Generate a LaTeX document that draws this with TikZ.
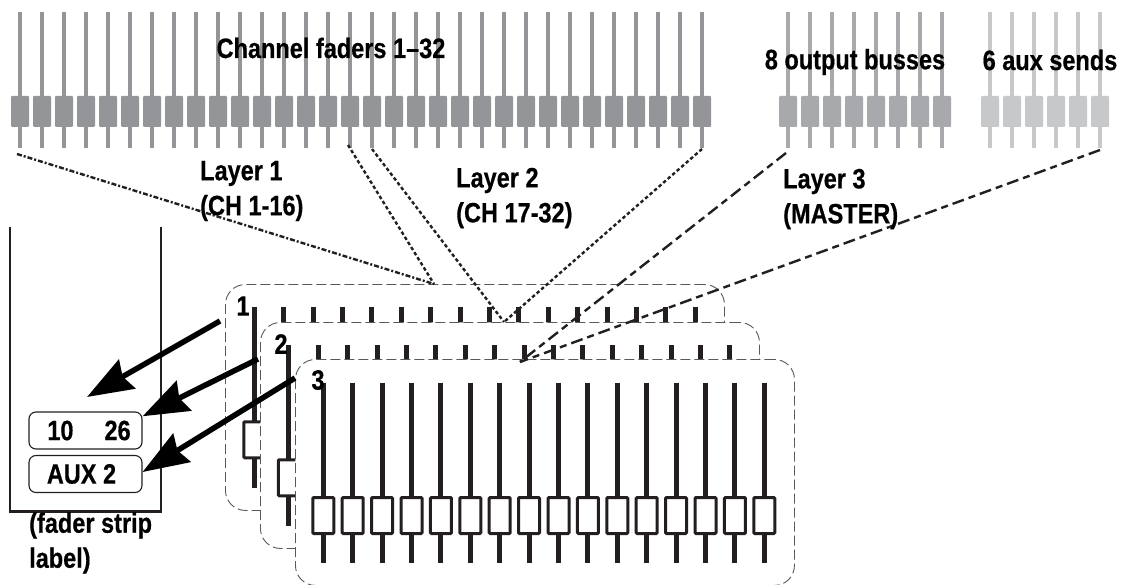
\documentclass[tikz,border=0pt]{standalone}
\usepackage{fontspec}
\setmainfont{Liberation Sans}[FakeStretch=0.84, BoldFeatures={FakeBold=0.5}]
\usetikzlibrary{arrows.meta,positioning,calc}
\definecolor{chgray}{HTML}{939598}
\definecolor{busgray}{HTML}{A7A9AC}
\definecolor{auxgray}{HTML}{C7C8CA}
\definecolor{inkblack}{HTML}{231F20}
\definecolor{framegray}{HTML}{58595B}

\begin{document}
\begin{tikzpicture}[
        x=1pt, y=-1pt,
        slidercap/.style={rectangle, rounded corners=1pt, inner sep=0pt, minimum width=18pt, minimum height=31pt},
        layerframe/.style={rectangle, draw=framegray, fill=white, line width=0.9pt, dash pattern=on 10pt off 4pt, rounded corners=20pt, minimum width=499pt, minimum height=226pt, anchor=north west},
        knob/.style={rectangle, draw=inkblack, fill=white, line width=3pt, rounded corners=1pt, inner sep=0pt, minimum width=21pt, minimum height=36pt},
        slot/.style={rectangle, draw=inkblack, line width=1.1pt, rounded corners=7pt, inner sep=0pt, minimum width=113pt, minimum height=37pt, font=\fontsize{28}{35}\bfseries\selectfont},
        caption/.style={align=left, inner sep=0pt, font=\fontsize{28}{35}\bfseries\selectfont},
        layerA/.style={draw=inkblack, line width=2.4pt, dash pattern=on 5pt off 2pt on 2pt off 2pt},
        layerB/.style={draw=inkblack, line width=2.4pt, dash pattern=on 3.5pt off 2.5pt},
        layerC/.style={draw=inkblack, line width=2.4pt, dash pattern=on 12pt off 5pt on 7pt off 5pt},
        arrow/.style={-{Stealth[length=46pt,width=33pt,inset=5pt]}, line width=5.5pt, black}
    ]
        \useasboundingbox (0,0) rectangle (1123,585);

        % Channel faders, busses and sends
        \foreach \i in {1,...,32} {
            \draw[chgray, line width=4pt] ({20+(\i-1)*22},12) -- ({20+(\i-1)*22},148);
            \node[slidercap, fill=chgray] (ch\i) at ({20+(\i-1)*22},111.5) {};
        }
        \foreach \i in {1,...,8} {
            \draw[busgray, line width=4pt] ({788+(\i-1)*22},12) -- ({788+(\i-1)*22},148);
            \node[slidercap, fill=busgray] (bus\i) at ({788+(\i-1)*22},111.5) {};
        }
        \foreach \i in {1,...,6} {
            \draw[auxgray, line width=4pt] ({990+(\i-1)*22},12) -- ({990+(\i-1)*22},148);
            \node[slidercap, fill=auxgray] (aux\i) at ({990+(\i-1)*22},111.5) {};
        }

        % Strip outline
        \coordinate (stripa) at (10,227);
        \coordinate (stripb) at (10,511.5);
        \coordinate (stripc) at (161,511.5);
        \coordinate (stripd) at (161,227);
        \draw[inkblack, line width=2.5pt] (stripa) -- (stripb) -- (stripc) -- (stripd);
        \node[slot] (slottop) at (85.5,430.5) {\hspace*{7pt}10\hspace{31pt}26};
        \node[slot] (slotbot) at (85.5,474) {\hspace*{-8pt}AUX 2};

        % Layers, back to front
        \foreach \l/\fx/\fy/\tx/\ty in {1/225/284/254.3/307, 2/260/322/288.8/345, 3/295/359/323.3/382.7} {
            \node[layerframe] (layer\l) at (\fx,\fy) {};
            \foreach \i in {1,...,16} {
                \draw[inkblack, line width=5pt] ({\tx+(\i-1)*29.4},\ty) -- ({\tx+(\i-1)*29.4},{\ty+180.5});
                \node[knob] (knob\l-\i) at ({\tx+(\i-1)*29.4},{\ty+132.8}) {};
            }
        }
        \node[caption] (num1) at (243,306) {1};
        \node[caption] (num2) at (281,344) {2};
        \node[caption] (num3) at (318,380) {3};

        % Layer connectors
        \coordinate (tipA) at (434,284);
        \coordinate (tipB) at (504,322);
        \coordinate (tipC) at (520,362);
        \coordinate (startA) at (17,154);
        \coordinate (startB) at (348,145);
        \coordinate (startC) at (372,149);
        \coordinate (startD) at (702,149);
        \coordinate (startE) at (786,153);
        \coordinate (startF) at (1100,150);
        \draw[layerA] (startA) -- (tipA);
        \draw[layerB] (startB) -- (tipA);
        \draw[layerB] (startC) -- (tipB);
        \draw[layerB] (startD) -- (tipB);
        \draw[layerC] (startE) -- (tipC);
        \draw[layerC] (startF) -- (tipC);

        % Arrows to the strip
        \coordinate (tail1) at (220,321);
        \coordinate (tail2) at (258,359);
        \coordinate (tail3) at (295,378);
        \coordinate (free1) at (87,397);
        \draw[arrow] (tail1) -- (free1);
        \draw[arrow] (tail2) -- (slottop.14);
        \draw[arrow] (tail3) -- (slotbot.2);

        % Captions
        \node[caption] (chlabel) at (331,48) {Channel faders 1--32};
        \node[caption] (buslabel) at (855,62) {8 output busses};
        \node[caption] (auxlabel) at (1050,60) {6 aux sends};
        \node[caption, anchor=west] (lay1) at (200,191) {Layer 1\\(CH 1-16)};
        \node[caption, anchor=west] (lay2) at (456,198) {Layer 2\\(CH 17-32)};
        \node[caption, anchor=west] (lay3) at (783,199) {Layer 3\\(MASTER)};
        \node[caption, anchor=west] (striplabel) at (29,543) {(fader strip\\label)};
    \end{tikzpicture}
\end{document}
